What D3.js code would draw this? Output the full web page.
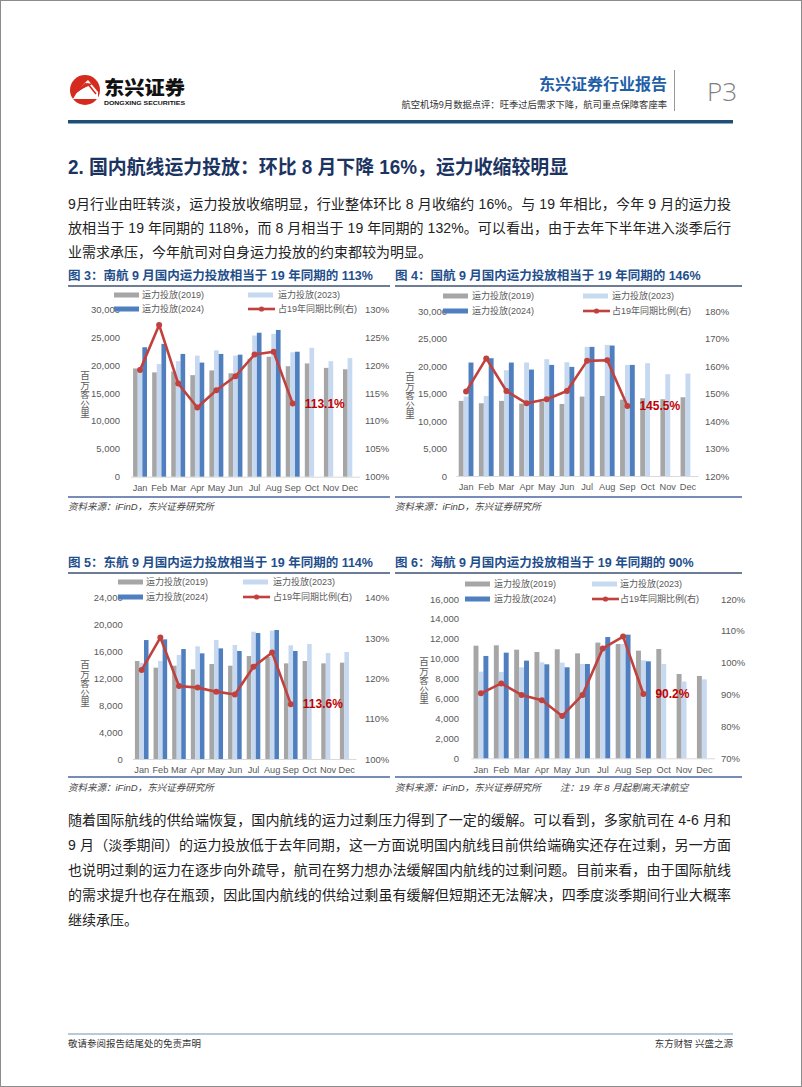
<!DOCTYPE html>
<html><head><meta charset="utf-8">
<script src="https://cdn.jsdelivr.net/npm/d3@7"></script>
<style>
html,body{margin:0;padding:0;background:#fff;}
svg{display:block;}
</style></head>
<body>
<svg id="page" width="802" height="1087"></svg>
<script>
// ---------------- DATA ----------------
const months = ["Jan","Feb","Mar","Apr","May","Jun","Jul","Aug","Sep","Oct","Nov","Dec"];
const seriesNames = ["运力投放(2019)","运力投放(2023)","运力投放(2024)","占19年同期比例(右)"];

// 图3 南航
const csa2019 = [19400,18700,18850,18200,19050,18530,21150,21500,19800,20300,19500,19250];
const csa2023 = [19600,20200,20700,21700,22650,21700,25300,25600,22300,23100,20700,21250];
const csa2024 = [23200,23800,22000,20450,22000,21870,25800,26300,22400,null,null,null];
const csaRatio = [1.191,1.272,1.167,1.124,1.155,1.180,1.219,1.224,1.131,null,null,null];
const csaLeftTicks = [0,5000,10000,15000,20000,25000,30000];
const csaRightTicks = [1.00,1.05,1.10,1.15,1.20,1.25,1.30];

// 图4 国航
const ca2019 = [13700,13270,13700,13200,13570,13140,14480,14600,13930,14180,14000,14360];
const ca2023 = [14500,14600,19290,20690,21300,20750,23550,23910,20260,20570,18560,18680];
const ca2024 = [20690,21480,20690,19410,20260,19900,23550,23790,20260,null,null,null];
const caRatio = [1.508,1.629,1.510,1.465,1.480,1.510,1.620,1.622,1.455,null,null,null];
const caLeftTicks = [0,5000,10000,15000,20000,25000,30000];
const caRightTicks = [1.2,1.3,1.4,1.5,1.6,1.7,1.8];

// 图5 东航
const ce2019 = [14580,13590,13880,13340,14130,13880,15320,15180,14230,14580,14230,14330];
const ce2023 = [14300,14580,15470,16760,17700,16960,18940,19100,16910,17110,15770,15920];
const ce2024 = [17700,17800,16360,15720,16460,16070,18740,19190,16070,null,null,null];
const ceRatio = [1.221,1.301,1.181,1.177,1.167,1.160,1.229,1.264,1.136,null,null,null];
const ceLeftTicks = [0,4000,8000,12000,16000,20000,24000];
const ceRightTicks = [1.0,1.1,1.2,1.3,1.4];

// 图6 海航
const hna2019 = [11310,11350,10910,10680,10950,10540,11620,11480,10810,10980,8470,8270];
const hna2023 = [8700,8670,9140,9640,9610,9470,11200,11480,9840,9470,7700,7930];
const hna2024 = [10280,10610,9810,9440,9140,9470,12180,12420,9740,null,null,null];
const hnaRatio = [0.904,0.935,0.899,0.882,0.833,0.899,1.045,1.082,0.902,null,null,null];
const hnaLeftTicks = [0,2000,4000,6000,8000,10000,12000,14000,16000];
const hnaRightTicks = [0.7,0.8,0.9,1.0,1.1,1.2];

// ---------------- STYLE ----------------
const SANS = "'Liberation Sans', Arial, 'Noto Sans CJK SC', sans-serif";
const CJK = "'Noto Sans CJK SC', 'Liberation Sans', sans-serif";
const barColors = ["#a6a6a6","#c6d9f0","#4f7fbf"];
const lineColor = "#c0413e";
const titleBlue = "#1f4e8c";

const svg = d3.select("#page");

// page frame
svg.append("rect").attr("x",0.5).attr("y",0.5).attr("width",801).attr("height",1086)
  .attr("fill","#fff").attr("stroke","#8c8c8c").attr("stroke-width",1);

// ---------------- HEADER ----------------
const logo = svg.append("g");
logo.append("circle").attr("cx",85).attr("cy",90).attr("r",15).attr("fill","#d52b1e");
logo.append("path").attr("d","M73,99 Q80,86 88,80 Q93,86 98,92 L98,99 Z").attr("fill","#fff");
[0,3,6,9].forEach(o=>{
  logo.append("path").attr("d",`M${72+o*0.2},${96-o} L86,${83-o*0.1}`)
    .attr("stroke","#d52b1e").attr("stroke-width",1.6).attr("fill","none")
    .attr("transform",`translate(${o*0.6},${o*0.2})`);
});
logo.append("path").attr("d","M88,84 L96,94").attr("stroke","#d52b1e").attr("stroke-width",1.6);
logo.append("text").attr("x",104).attr("y",95).attr("font-family",CJK).attr("font-weight",900)
  .attr("font-size",19).attr("fill","#111").attr("textLength",81).attr("lengthAdjust","spacingAndGlyphs").text("东兴证券");
logo.append("text").attr("x",104).attr("y",105).attr("font-family",SANS).attr("font-weight",700)
  .attr("font-size",6.2).attr("fill","#111").attr("textLength",81).attr("lengthAdjust","spacingAndGlyphs").text("DONGXING SECURITIES");

svg.append("text").attr("x",667).attr("y",90).attr("text-anchor","end").attr("font-family",CJK)
  .attr("font-weight",700).attr("font-size",16).attr("fill","#1f5fa8").text("东兴证券行业报告");
svg.append("text").attr("x",667).attr("y",108).attr("text-anchor","end").attr("font-family",CJK)
  .attr("font-size",9.3).attr("fill","#333").text("航空机场9月数据点评：旺季过后需求下降，航司重点保障客座率");
svg.append("line").attr("x1",674.5).attr("x2",674.5).attr("y1",70).attr("y2",111).attr("stroke","#999").attr("stroke-width",1);
svg.append("text").attr("x",707).attr("y",101).attr("font-family","'Open Sans', sans-serif").attr("font-weight",300)
  .attr("font-size",26).attr("fill","#7f7f7f").text("P3");
svg.append("rect").attr("x",68).attr("y",120).attr("width",665).attr("height",3.5).attr("fill","#1f4e79");

// heading
svg.append("text").attr("x",68).attr("y",174).attr("font-family",SANS).attr("font-weight",700)
  .attr("font-size",19.5).attr("fill","#1c3462").attr("textLength",500).attr("lengthAdjust","spacingAndGlyphs")
  .text("2. 国内航线运力投放：环比 8 月下降 16%，运力收缩较明显");

// paragraphs
function para(lines, y0, lh){
  lines.forEach((t,i)=>{
    const el = svg.append("text").attr("x",68).attr("y",y0+i*lh).attr("font-family",SANS)
      .attr("font-size",14).attr("fill","#222").text(t);
    if(i<lines.length-1) el.attr("textLength",663).attr("lengthAdjust","spacing");
  });
}
para(["9月行业由旺转淡，运力投放收缩明显，行业整体环比 8 月收缩约 16%。与 19 年相比，今年 9 月的运力投",
      "放相当于 19 年同期的 118%，而 8 月相当于 19 年同期的 132%。可以看出，由于去年下半年进入淡季后行",
      "业需求承压，今年航司对自身运力投放的约束都较为明显。"], 209, 24);
para(["随着国际航线的供给端恢复，国内航线的运力过剩压力得到了一定的缓解。可以看到，多家航司在 4-6 月和",
      "9 月（淡季期间）的运力投放低于去年同期，这一方面说明国内航线目前供给端确实还存在过剩，另一方面",
      "也说明过剩的运力在逐步向外疏导，航司在努力想办法缓解国内航线的过剩问题。目前来看，由于国际航线",
      "的需求提升也存在瓶颈，因此国内航线的供给过剩虽有缓解但短期还无法解决，四季度淡季期间行业大概率",
      "继续承压。"], 825, 25);

// footer
svg.append("rect").attr("x",68).attr("y",1033).attr("width",665).attr("height",2).attr("fill","#b8cad8");
svg.append("text").attr("x",68).attr("y",1047).attr("font-family",CJK).attr("font-size",9.5).attr("fill","#333").text("敬请参阅报告结尾处的免责声明");
svg.append("text").attr("x",733).attr("y",1047).attr("text-anchor","end").attr("font-family",CJK).attr("font-size",9.5).attr("fill","#333").text("东方财智 兴盛之源");

// ---------------- CHARTS ----------------
function panelFrame(x1,x2,titleY,lineY,bottomY,title,sourceY,source,note){
  svg.append("text").attr("x",x1).attr("y",titleY+4.5).attr("font-family",SANS).attr("font-weight",700)
    .attr("font-size",12.5).attr("fill",titleBlue).text(title);
  svg.append("line").attr("x1",x1).attr("x2",x2).attr("y1",lineY).attr("y2",lineY).attr("stroke","#3e5273").attr("stroke-width",1.5);
  svg.append("line").attr("x1",x1).attr("x2",x2).attr("y1",bottomY).attr("y2",bottomY).attr("stroke","#4a66a0").attr("stroke-width",1.5);
  svg.append("text").attr("x",x1).attr("y",sourceY).attr("font-family",SANS).attr("font-style","italic")
    .attr("font-size",9.5).attr("fill","#444").text(source);
  if(note) svg.append("text").attr("x",note.x).attr("y",sourceY).attr("font-family",SANS).attr("font-style","italic")
    .attr("font-size",9.5).attr("fill","#444").text(note.t);
}

function drawChart(c){
  const g = svg.append("g");
  const x0 = d3.scaleBand().domain(months).range(c.xr).paddingInner(0.27).paddingOuter(0.135);
  const x1 = d3.scaleBand().domain([0,1,2]).range([0,x0.bandwidth()]);
  const yL = d3.scaleLinear().domain([c.leftTicks[0],c.leftTicks[c.leftTicks.length-1]]).range(c.yr);
  const yR = d3.scaleLinear().domain([c.rightTicks[0],c.rightTicks[c.rightTicks.length-1]]).range(c.yr);
  const fs = 9.5;

  // left axis
  const la = g.append("g").attr("transform",`translate(${c.xr[0]},0)`)
    .call(d3.axisLeft(yL).tickValues(c.leftTicks).tickSize(0).tickPadding(c.xr[0]-c.leftLabelX).tickFormat(d3.format(",")));
  la.select(".domain").remove();
  la.selectAll("text").attr("font-family",SANS).attr("font-size",fs).attr("fill","#595959");
  // right axis
  const ra = g.append("g").attr("transform",`translate(${c.xr[1]},0)`)
    .call(d3.axisRight(yR).tickValues(c.rightTicks).tickSize(0).tickPadding(c.rightLabelX-c.xr[1]).tickFormat(d3.format(".0%")));
  ra.select(".domain").remove();
  ra.selectAll("text").attr("font-family",SANS).attr("font-size",fs).attr("fill","#595959");
  // bottom axis
  const ba = g.append("g").attr("transform",`translate(0,${c.yr[0]})`)
    .call(d3.axisBottom(x0).tickSize(0).tickPadding(c.monthY-c.yr[0]-3.3));
  ba.select(".domain").attr("stroke","#d9d9d9");
  ba.selectAll("text").attr("font-family",SANS).attr("font-size",9.2).attr("fill","#595959");

  // bars
  const rows = months.map((m,i)=>({m, v:[c.s19[i],c.s23[i],c.s24[i]]}));
  const grp = g.append("g").selectAll("g").data(rows).join("g").attr("transform",d=>`translate(${x0(d.m)},0)`);
  grp.selectAll("rect").data(d=>d.v.map((v,k)=>({v,k})).filter(e=>e.v!=null)).join("rect")
    .attr("x",e=>x1(e.k)).attr("width",x1.bandwidth()).attr("y",e=>yL(e.v)).attr("height",e=>yL(0)-yL(e.v))
    .attr("fill",e=>barColors[e.k]);

  // line
  const pts = months.map((m,i)=>({m,v:c.ratio[i]})).filter(d=>d.v!=null);
  const cx = d=>x0(d.m)+x0.bandwidth()/2;
  g.append("path").datum(pts).attr("fill","none").attr("stroke",lineColor).attr("stroke-width",2.6)
    .attr("stroke-linejoin","round").attr("d",d3.line().x(cx).y(d=>yR(d.v)));
  g.selectAll("circle.pt").data(pts).join("circle").attr("class","pt").attr("cx",cx).attr("cy",d=>yR(d.v))
    .attr("r",3).attr("fill",lineColor);

  // annotation at last point
  const last = pts[pts.length-1];
  g.append("text").attr("x",cx(last)+12).attr("y",yR(last.v)).attr("dy","0.36em")
    .attr("font-family",SANS).attr("font-weight",700).attr("font-size",12).attr("fill","#c00000")
    .text(d3.format(".1%")(last.v));

  // y title (vertical, upright characters)
  g.append("text").attr("x",c.ytX).attr("y",c.ytY)
    .attr("writing-mode","vertical-rl").style("text-orientation","upright")
    .attr("font-family",CJK).attr("font-size",9.5).attr("fill","#595959").text("百万客公里");

  // legend
  const L = c.legend;
  const leg = g.append("g").attr("font-family",SANS).attr("font-size",9).attr("fill","#595959");
  const items = [
    {type:"bar",k:0,x:L[0],tx:L[1],y:c.legY[0],name:seriesNames[0]},
    {type:"bar",k:1,x:L[2],tx:L[3],y:c.legY[0],name:seriesNames[1]},
    {type:"bar",k:2,x:L[0],tx:L[1],y:c.legY[1],name:seriesNames[2]},
    {type:"line",x:L[2],tx:L[3],y:c.legY[1],name:seriesNames[3]}
  ];
  items.forEach(it=>{
    if(it.type==="bar"){
      leg.append("rect").attr("x",it.x).attr("y",it.y-2.5).attr("width",25).attr("height",5).attr("fill",barColors[it.k]);
    } else {
      leg.append("line").attr("x1",it.x).attr("x2",it.x+27).attr("y1",it.y).attr("y2",it.y).attr("stroke",lineColor).attr("stroke-width",2.6);
      leg.append("circle").attr("cx",it.x+13.5).attr("cy",it.y).attr("r",2.6).attr("fill",lineColor);
    }
    leg.append("text").attr("x",it.tx).attr("y",it.y).attr("dy","0.35em").text(it.name);
  });
}

// panels
panelFrame(68,390,275,286,497,"图 3：南航 9 月国内运力投放相当于 19 年同期的 113%",510,"资料来源：iFinD，东兴证券研究所");
panelFrame(395,742,275,286,497,"图 4：国航 9 月国内运力投放相当于 19 年同期的 146%",510,"资料来源：iFinD，东兴证券研究所");
panelFrame(68,390,562,573,777,"图 5：东航 9 月国内运力投放相当于 19 年同期的 114%",791,"资料来源：iFinD，东兴证券研究所");
panelFrame(395,742,562,573,777,"图 6：海航 9 月国内运力投放相当于 19 年同期的 90%",791,"资料来源：iFinD，东兴证券研究所",{x:560,t:"注：19 年 8 月起剔离天津航空"});

drawChart({xr:[130.5,359.5], yr:[476.7,309.3], leftTicks:csaLeftTicks, rightTicks:csaRightTicks,
  s19:csa2019,s23:csa2023,s24:csa2024,ratio:csaRatio, leftLabelX:120, rightLabelX:365, monthY:488,
  legY:[295,309], legend:[114,142,248,278], ytX:85, ytY:371});
drawChart({xr:[456,698], yr:[476,311.5], leftTicks:caLeftTicks, rightTicks:caRightTicks,
  s19:ca2019,s23:ca2023,s24:ca2024,ratio:caRatio, leftLabelX:447, rightLabelX:705, monthY:487,
  legY:[296,311], legend:[443,472,583,612], ytX:410, ytY:372});
drawChart({xr:[132.4,356], yr:[759,597.7], leftTicks:ceLeftTicks, rightTicks:ceRightTicks,
  s19:ce2019,s23:ce2023,s24:ce2024,ratio:ceRatio, leftLabelX:122.7, rightLabelX:365, monthY:770,
  legY:[582,597], legend:[118,146,243,273], ytX:85, ytY:660});
drawChart({xr:[470.8,714.5], yr:[758.3,599], leftTicks:hnaLeftTicks, rightTicks:hnaRightTicks,
  s19:hna2019,s23:hna2023,s24:hna2024,ratio:hnaRatio, leftLabelX:459, rightLabelX:721, monthY:770,
  legY:[584,599], legend:[465,494,592,620], ytX:424, ytY:657});
</script>
</body></html>
